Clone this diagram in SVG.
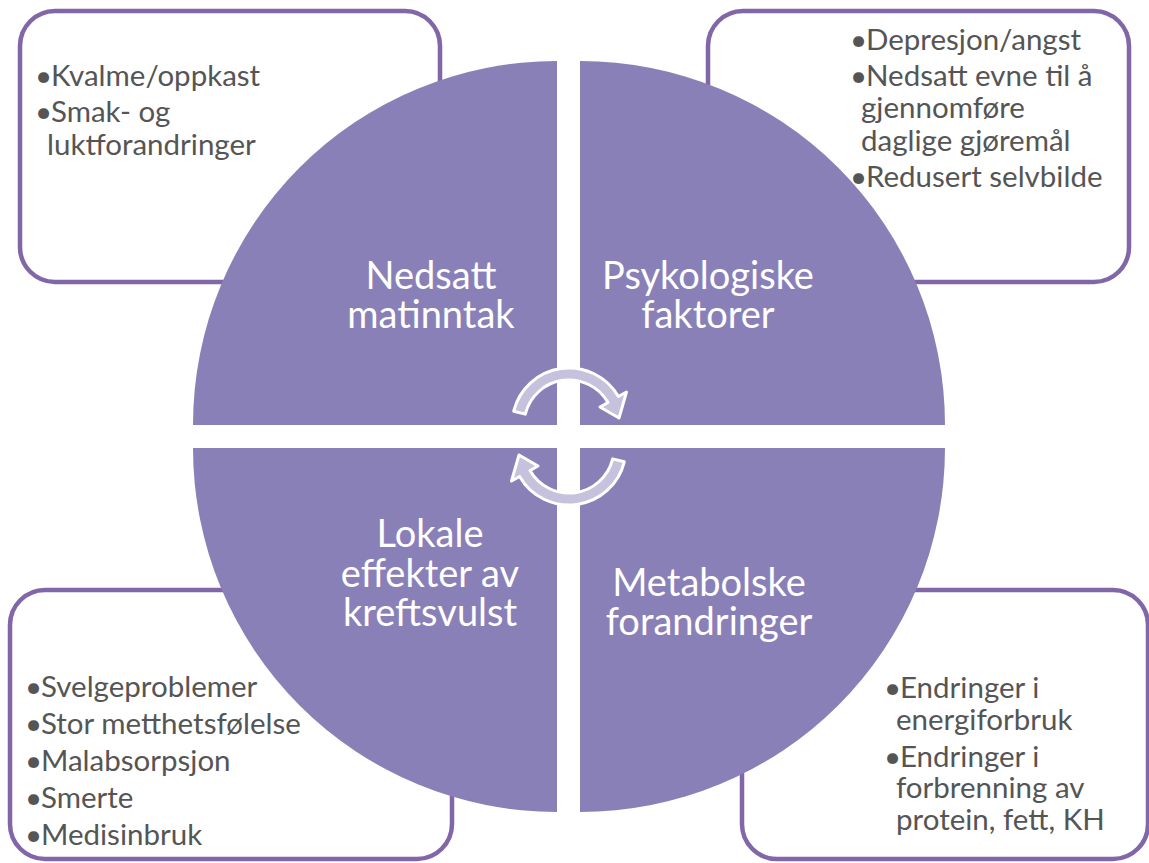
<svg xmlns="http://www.w3.org/2000/svg" width="1149" height="863" viewBox="0 0 1149 863">
<style>
.box{fill:#ffffff;stroke:#8166A8;stroke-width:4.5}
.quad{fill:#8A80B8}
.qt{font-family:Lato,"Open Sans",sans-serif;font-size:38px;fill:#ffffff;text-anchor:middle}
.bt{font-family:Lato,"Open Sans",sans-serif;font-size:29.5px;fill:#555555}
.arrow{fill:#C6C1DC;stroke:#ffffff;stroke-width:3;stroke-linejoin:round}
</style>
<rect width="1149" height="863" fill="#ffffff"/>
<g id="box-tl"><rect class="box" x="20" y="11" width="420" height="271" rx="35"/>
<text class="bt"><tspan x="35" y="86">•</tspan><tspan x="51" y="86">Kvalme/oppkast</tspan><tspan x="35" y="122">•</tspan><tspan x="51" y="122">Smak- og</tspan><tspan x="47" y="155">luktforandringer</tspan></text></g>
<g id="box-tr"><rect class="box" x="708" y="11" width="421" height="271" rx="35"/>
<text class="bt"><tspan x="850" y="50">•</tspan><tspan x="866" y="50">Depresjon/angst</tspan><tspan x="850" y="86">•</tspan><tspan x="866" y="86">Nedsatt evne til å</tspan><tspan x="861" y="118">gjennomføre</tspan><tspan x="861" y="151">daglige gjøremål</tspan><tspan x="850" y="187">•</tspan><tspan x="866" y="187">Redusert selvbilde</tspan></text></g>
<g id="box-bl"><rect class="box" x="10" y="590" width="442" height="269" rx="35"/>
<text class="bt"><tspan x="25" y="697">•</tspan><tspan x="41" y="697">Svelgeproblemer</tspan><tspan x="25" y="734">•</tspan><tspan x="41" y="734">Stor metthetsfølelse</tspan><tspan x="25" y="771">•</tspan><tspan x="41" y="771">Malabsorpsjon</tspan><tspan x="25" y="808">•</tspan><tspan x="41" y="808">Smerte</tspan><tspan x="25" y="845">•</tspan><tspan x="41" y="845">Medisinbruk</tspan></text></g>
<g id="box-br"><rect class="box" x="742" y="590" width="406" height="269" rx="35"/>
<text class="bt"><tspan x="884" y="698">•</tspan><tspan x="900" y="698">Endringer i</tspan><tspan x="896" y="730">energiforbruk</tspan><tspan x="884" y="767">•</tspan><tspan x="900" y="767">Endringer i</tspan><tspan x="896" y="798">forbrenning av</tspan><tspan x="896" y="830">protein, fett, KH</tspan></text></g>
<g id="q-tl"><path class="quad" d="M557,425 L193,425 A364,364 0 0 1 557,61 Z"/>
<text class="qt"><tspan x="431" y="289">Nedsatt</tspan><tspan x="431" y="328">matinntak</tspan></text></g>
<g id="q-tr"><path class="quad" d="M580,425 L580,61 A365,364 0 0 1 945,425 Z"/>
<text class="qt"><tspan x="708" y="289">Psykologiske</tspan><tspan x="708" y="328">faktorer</tspan></text></g>
<g id="q-bl"><path class="quad" d="M557,448 L557,812 A364,364 0 0 1 193,448 Z"/>
<text class="qt"><tspan x="430" y="547">Lokale</tspan><tspan x="430" y="587">effekter av</tspan><tspan x="430" y="626">kreftsvulst</tspan></text></g>
<g id="q-br"><path class="quad" d="M580,448 L945,448 A365,364 0 0 1 580,812 Z"/>
<text class="qt"><tspan x="709" y="596">Metabolske</tspan><tspan x="709" y="635">forandringer</tspan></text></g>
<g id="connectors">
<path id="arrow-top" class="arrow" d="M513.7,411.2 A57,57 0 0 1 618.4,396.5 L626.5,392 L619,418 L600,407 L608,402.5 A45,45 0 0 0 525.3,414.1 Z"/>
<use href="#arrow-top" transform="rotate(180 569 436.5)"/>
</g>
</svg>
